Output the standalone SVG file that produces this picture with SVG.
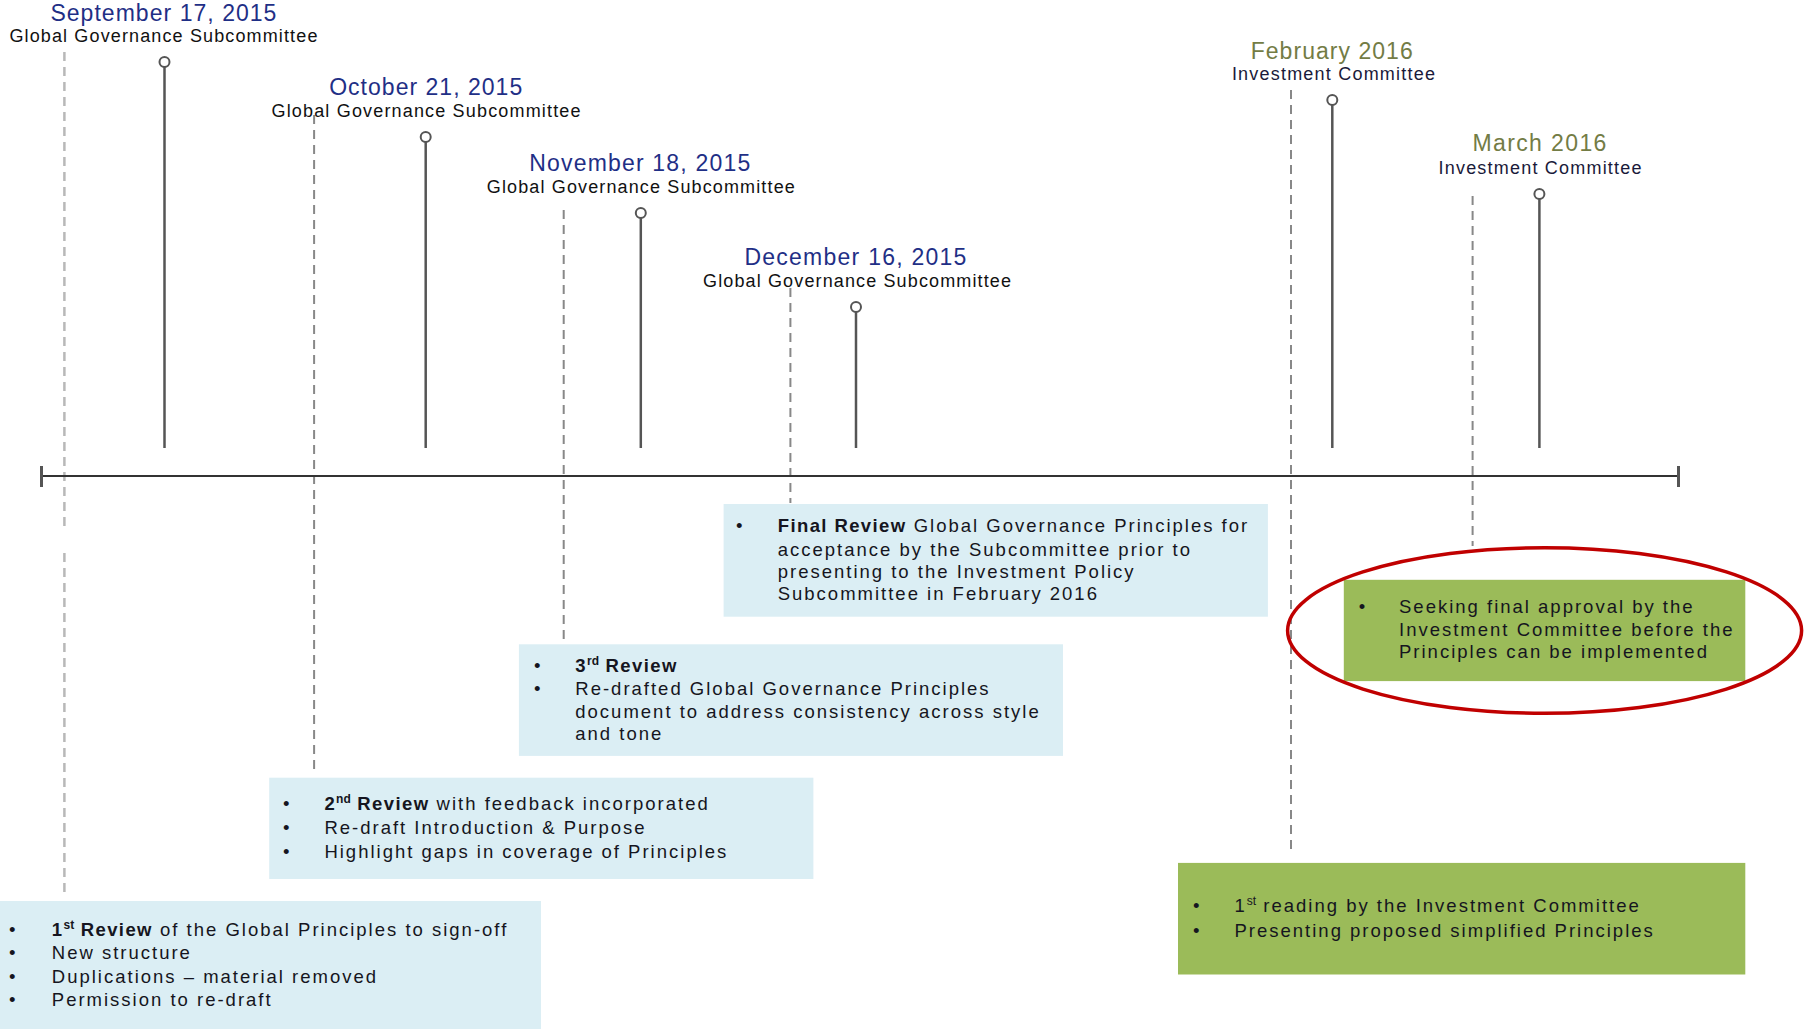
<svg xmlns="http://www.w3.org/2000/svg" width="1804" height="1029" viewBox="0 0 1804 1029">
<style>
.title{font-family:"Liberation Sans",Arial,sans-serif;font-size:23px;fill:#1F2F86;text-anchor:middle}
.titleg{font-family:"Liberation Sans",Arial,sans-serif;font-size:23px;fill:#737C45;text-anchor:middle}
.sub{font-family:"Liberation Sans",Arial,sans-serif;font-size:18px;fill:#111;text-anchor:middle}
.subn{font-family:"Liberation Sans",Arial,sans-serif;font-size:18px;fill:#1a1a3a;text-anchor:middle}
.body{font-family:"Liberation Sans",Arial,sans-serif;font-size:18.5px;fill:#151520;letter-spacing:2px}
.b{font-weight:bold;letter-spacing:1.4px}
.sup{font-size:12px;font-weight:bold;letter-spacing:0}
.blue{fill:#DBEEF4}
.green{fill:#9BBB59}
.stem{stroke:#555;stroke-width:2.5;fill:none}
.head{stroke:#555;stroke-width:2;fill:#fff}
.dash{stroke:#888;stroke-width:2;stroke-dasharray:9 6;fill:none}
.dashl{stroke:#B8B8B8;stroke-width:2.5;stroke-dasharray:9 6;fill:none}
</style>

<g id="connectors">
  <line class="dashl" x1="64.4" y1="52" x2="64.4" y2="532"/>
  <line class="dashl" x1="64.4" y1="553" x2="64.4" y2="895"/>
  <line class="dash" x1="314.1" y1="115" x2="314.1" y2="771"/>
  <line class="dash" x1="563.7" y1="210" x2="563.7" y2="640"/>
  <line class="dash" x1="790.4" y1="288" x2="790.4" y2="503"/>
  <line class="dash" x1="1291" y1="90" x2="1291" y2="854"/>
  <line class="dash" x1="1472.6" y1="196" x2="1472.6" y2="546"/>
</g>

<g id="timeline">
  <line x1="41.5" y1="476" x2="1678.5" y2="476" stroke="#333" stroke-width="2"/>
  <line x1="41.5" y1="466" x2="41.5" y2="487" stroke="#555" stroke-width="3"/>
  <line x1="1678.5" y1="466" x2="1678.5" y2="487" stroke="#555" stroke-width="3"/>
</g>

<g id="milestone-sep">
  <line class="stem" x1="164.5" y1="67" x2="164.5" y2="448"/>
  <circle class="head" cx="164.5" cy="62" r="5"/>
  <text class="title" x="163.4" y="21" textLength="226" lengthAdjust="spacing">September 17, 2015</text>
  <text class="sub" x="163.4" y="41.5" textLength="308" lengthAdjust="spacing">Global Governance Subcommittee</text>
</g>

<g id="milestone-oct">
  <line class="stem" x1="425.7" y1="142" x2="425.7" y2="448"/>
  <circle class="head" cx="425.7" cy="137" r="5"/>
  <text class="title" x="425.7" y="94.5" textLength="193" lengthAdjust="spacing">October 21, 2015</text>
  <text class="sub" x="426" y="116.5" textLength="309" lengthAdjust="spacing">Global Governance Subcommittee</text>
</g>

<g id="milestone-nov">
  <line class="stem" x1="640.8" y1="218" x2="640.8" y2="448"/>
  <circle class="head" cx="640.8" cy="213" r="5"/>
  <text class="title" x="639.7" y="170.5" textLength="221" lengthAdjust="spacing">November 18, 2015</text>
  <text class="sub" x="640.8" y="192.5" textLength="308" lengthAdjust="spacing">Global Governance Subcommittee</text>
</g>

<g id="milestone-dec">
  <line class="stem" x1="856" y1="312" x2="856" y2="448"/>
  <circle class="head" cx="856" cy="307" r="5"/>
  <text class="title" x="855.4" y="264.5" textLength="222" lengthAdjust="spacing">December 16, 2015</text>
  <text class="sub" x="857" y="286.5" textLength="308" lengthAdjust="spacing">Global Governance Subcommittee</text>
</g>

<g id="milestone-feb">
  <line class="stem" x1="1332.3" y1="105" x2="1332.3" y2="448"/>
  <circle class="head" cx="1332.3" cy="100" r="5"/>
  <text class="titleg" x="1331.7" y="58.5" textLength="162" lengthAdjust="spacing">February 2016</text>
  <text class="subn" x="1333.4" y="79.5" textLength="203" lengthAdjust="spacing">Investment Committee</text>
</g>

<g id="milestone-mar">
  <line class="stem" x1="1539.4" y1="199" x2="1539.4" y2="448"/>
  <circle class="head" cx="1539.4" cy="194" r="5"/>
  <text class="titleg" x="1539.4" y="150.5" textLength="134" lengthAdjust="spacing">March 2016</text>
  <text class="subn" x="1540" y="173.5" textLength="203" lengthAdjust="spacing">Investment Committee</text>
</g>

<g id="box-final-review">
  <rect class="blue" x="723.6" y="504" width="544.3" height="112.7"/>
  <text class="body" x="736" y="531.5">•</text>
  <text class="body" x="777.7" y="531.5"><tspan class="b">Final Review</tspan> Global Governance Principles for</text>
  <text class="body" x="777.7" y="555.5">acceptance by the Subcommittee prior to</text>
  <text class="body" x="777.7" y="577.5">presenting to the Investment Policy</text>
  <text class="body" x="777.7" y="599.5">Subcommittee in February 2016</text>
</g>

<g id="box-3rd-review">
  <rect class="blue" x="518.9" y="644.3" width="544.1" height="111.6"/>
  <text class="body" x="534" y="672">•</text>
  <text class="body" x="534" y="694.5">•</text>
  <text class="body" x="575.3" y="672"><tspan class="b">3</tspan><tspan class="sup" dy="-7">rd</tspan><tspan class="b" dy="7"> Review</tspan></text>
  <text class="body" x="575.3" y="694.5">Re-drafted Global Governance Principles</text>
  <text class="body" x="575.3" y="718">document to address consistency across style</text>
  <text class="body" x="575.3" y="740">and tone</text>
</g>

<g id="box-2nd-review">
  <rect class="blue" x="269.2" y="777.7" width="544.2" height="101.3"/>
  <text class="body" x="283" y="810">•</text>
  <text class="body" x="283" y="834">•</text>
  <text class="body" x="283" y="858">•</text>
  <text class="body" x="324.4" y="810"><tspan class="b">2</tspan><tspan class="sup" dy="-7">nd</tspan><tspan class="b" dy="7"> Review</tspan> with feedback incorporated</text>
  <text class="body" x="324.4" y="834">Re-draft Introduction &amp; Purpose</text>
  <text class="body" x="324.4" y="858">Highlight gaps in coverage of Principles</text>
</g>

<g id="box-1st-review">
  <rect class="blue" x="0" y="901" width="541" height="128"/>
  <text class="body" x="9" y="935.5">•</text>
  <text class="body" x="9" y="959">•</text>
  <text class="body" x="9" y="982.5">•</text>
  <text class="body" x="9" y="1005.5">•</text>
  <text class="body" x="51.8" y="935.5"><tspan class="b">1</tspan><tspan class="sup" dy="-7">st</tspan><tspan class="b" dy="7"> Review</tspan> of the Global Principles to sign-off</text>
  <text class="body" x="51.8" y="959">New structure</text>
  <text class="body" x="51.8" y="982.5">Duplications – material removed</text>
  <text class="body" x="51.8" y="1005.5">Permission to re-draft</text>
</g>

<g id="box-final-approval">
  <rect class="green" x="1343.8" y="579.8" width="401.5" height="101.3"/>
  <text class="body" x="1358.7" y="613">•</text>
  <text class="body" x="1399" y="613">Seeking final approval by the</text>
  <text class="body" x="1399" y="636">Investment Committee before the</text>
  <text class="body" x="1399" y="658">Principles can be implemented</text>
  <ellipse cx="1544.6" cy="630.5" rx="257" ry="82.8" fill="none" stroke="#C00000" stroke-width="3.5"/>
</g>

<g id="box-1st-reading">
  <rect class="green" x="1178" y="862.9" width="567.3" height="111.6"/>
  <text class="body" x="1193" y="912.3">•</text>
  <text class="body" x="1193" y="936.5">•</text>
  <text class="body" x="1234.5" y="912.3">1<tspan class="sup" style="font-weight:normal" dy="-7">st</tspan><tspan dy="7"> reading by the Investment Committee</tspan></text>
  <text class="body" x="1234.5" y="936.5">Presenting proposed simplified Principles</text>
</g>
</svg>
